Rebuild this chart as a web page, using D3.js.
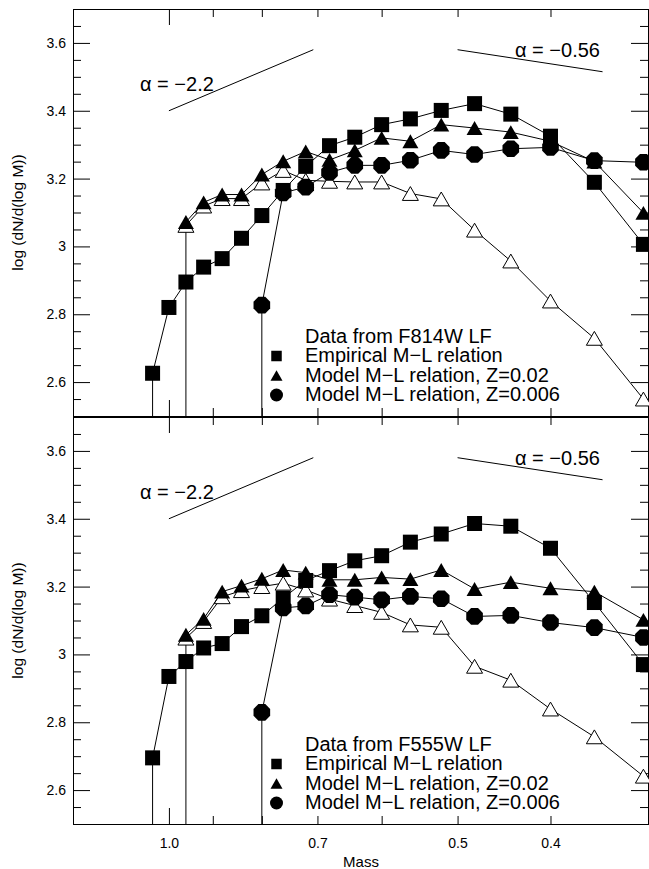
<!DOCTYPE html>
<html><head><meta charset="utf-8">
<script src="https://cdn.jsdelivr.net/npm/d3@7"></script>
<style>html,body{margin:0;padding:0;background:#fff;} svg{display:block;}</style>
</head><body>
<svg id="c" width="649" height="869"></svg>
<script>
// ---------- data ----------
const massSquares   = [1.04,1.00,0.96,0.92,0.88,0.84,0.80,0.76,0.72,0.68,0.64,0.60,0.56,0.52,0.48,0.44,0.40,0.36,0.32];
const massTriangles = [0.96,0.92,0.88,0.84,0.80,0.76,0.72,0.68,0.64,0.60,0.56,0.52,0.48,0.44,0.40,0.36,0.32];
const massCircles   = [0.80,0.76,0.72,0.68,0.64,0.60,0.56,0.52,0.48,0.44,0.40,0.36,0.32];

// Top panel: F814W
const empiricalF814 = [2.626,2.820,2.895,2.939,2.964,3.024,3.091,3.165,3.236,3.297,3.322,3.359,3.376,3.401,3.421,3.390,3.325,3.189,3.006];
const modelZ02F814  = [3.072,3.130,3.153,3.153,3.212,3.251,3.280,3.255,3.283,3.320,3.310,3.359,3.349,3.337,3.310,3.250,3.099];
const openTriF814   = [3.062,3.119,3.141,3.141,3.187,3.224,3.195,3.192,3.190,3.190,3.156,3.140,3.048,2.957,2.839,2.729,2.550];
const modelZ006F814 = [2.827,3.158,3.175,3.218,3.239,3.239,3.254,3.283,3.271,3.288,3.292,3.253,3.248];

// Bottom panel: F555W
const empiricalF555 = [2.695,2.935,2.979,3.019,3.032,3.082,3.114,3.166,3.218,3.247,3.276,3.291,3.331,3.355,3.386,3.378,3.313,3.153,2.970];
const modelZ02F555  = [3.058,3.105,3.185,3.203,3.223,3.249,3.241,3.220,3.220,3.227,3.222,3.249,3.193,3.213,3.195,3.185,3.102];
const openTriF555   = [3.048,3.097,3.170,3.188,3.200,3.210,3.190,3.163,3.144,3.124,3.087,3.080,2.965,2.924,2.839,2.757,2.641];
const modelZ006F555 = [2.829,3.137,3.143,3.176,3.169,3.161,3.171,3.164,3.112,3.115,3.094,3.079,3.050];

const panelTitles = ["Data from F814W LF","Data from F555W LF"];
const legendLabels = ["Empirical M\u2212L relation","Model M\u2212L relation, Z=0.02","Model M\u2212L relation, Z=0.006"];

// slope reference lines: [mass0, value0, mass1, value1]
const alphaLine1 = [1.0, 3.40, 0.707, 3.58];
const alphaLine2 = [0.5, 3.58, 0.353, 3.515];
const alphaLabels = ["\u03b1 = \u22122.2","\u03b1 = \u22120.56"];

const yMajorTicks = [2.6,2.8,3.0,3.2,3.4,3.6];
const yTickLabels = ["2.6","2.8","3","3.2","3.4","3.6"];
const yMinorTicks = [2.55,2.65,2.7,2.75,2.85,2.9,2.95,3.05,3.1,3.15,3.25,3.3,3.35,3.45,3.5,3.55,3.65];
const xMajorTicks = [1.0];
const xMinorTicks = [0.9,0.8,0.7,0.6,0.5,0.4];
const xLabelTicks = [1.0,0.7,0.5,0.4];
const xTickLabels = ["1.0","0.7","0.5","0.4"];
const yDomain = [2.5,3.7];
const xDomain = [1.259,0.3165];

// ---------- drawing ----------
const FONT = "'Liberation Sans', Arial, Helvetica, sans-serif";
const svg = d3.select("#c");
svg.append("rect").attr("width",649).attr("height",869).attr("fill","#fff");

const x = d3.scaleLog().domain(xDomain).range([73,648]);

const panels = [
  {top:9,   bot:416, title:panelTitles[0], sq:empiricalF814, tri:modelZ02F814, open:openTriF814, circ:modelZ006F814},
  {top:417, bot:824, title:panelTitles[1], sq:empiricalF555, tri:modelZ02F555, open:openTriF555, circ:modelZ006F555}
];

function triPath(s){const h=s*Math.sqrt(3)/2;return `M0,${-h/2}L${s/2},${h/2}L${-s/2},${h/2}Z`;}
function octPath(r){const pts=d3.range(8).map(k=>{const a=(22.5+45*k)*Math.PI/180;return [r*Math.cos(a),r*Math.sin(a)];});return "M"+pts.map(p=>p.join(",")).join("L")+"Z";}

function styleAxis(g){
  g.select(".domain").remove();
  g.selectAll("line").attr("stroke","#000").attr("stroke-width",1);
  g.selectAll("text").attr("font-family",FONT).attr("font-size",14).attr("fill","#000");
}

panels.forEach((p,pi)=>{
  const y = d3.scaleLinear().domain(yDomain).range([p.bot,p.top]);
  const g = svg.append("g");

  // axes ticks
  g.append("g").attr("transform",`translate(73,0)`).call(d3.axisLeft(y).tickValues(yMajorTicks).tickSize(-17).tickPadding(7).tickFormat((d,i)=>yTickLabels[i])).call(styleAxis);
  g.append("g").attr("transform",`translate(73,0)`).call(d3.axisLeft(y).tickValues(yMinorTicks).tickSize(-8).tickFormat("")).call(styleAxis);
  g.append("g").attr("transform",`translate(648,0)`).call(d3.axisRight(y).tickValues(yMajorTicks).tickSize(-17).tickFormat("")).call(styleAxis);
  g.append("g").attr("transform",`translate(648,0)`).call(d3.axisRight(y).tickValues(yMinorTicks).tickSize(-8).tickFormat("")).call(styleAxis);
  g.append("g").attr("transform",`translate(0,${p.top})`).call(d3.axisTop(x).tickValues(xMajorTicks).tickSize(-16).tickFormat("")).call(styleAxis);
  g.append("g").attr("transform",`translate(0,${p.top})`).call(d3.axisTop(x).tickValues(xMinorTicks).tickSize(-8).tickFormat("")).call(styleAxis);
  g.append("g").attr("transform",`translate(0,${p.bot})`).call(d3.axisBottom(x).tickValues(xMajorTicks).tickSize(-16).tickFormat("")).call(styleAxis);
  g.append("g").attr("transform",`translate(0,${p.bot})`).call(d3.axisBottom(x).tickValues(xMinorTicks).tickSize(-8).tickFormat("")).call(styleAxis);
  if(pi===1){
    g.append("g").attr("transform",`translate(0,${p.bot})`).call(d3.axisBottom(x).tickValues(xLabelTicks).tickSize(0).tickPadding(14).tickFormat((d,i)=>xTickLabels[i])).call(styleAxis);
  }

  // frame
  g.append("rect").attr("x",73.5).attr("y",p.top+0.5).attr("width",575).attr("height",p.bot-p.top)
    .attr("fill","none").attr("stroke","#000").attr("stroke-width",1);

  // y label
  g.append("text").attr("transform",`translate(22.5,${(p.top+p.bot)/2}) rotate(-90)`)
    .attr("text-anchor","middle").attr("font-family",FONT).attr("font-size",15.5).text("log (dN/d(log M))");

  // slope reference lines
  [alphaLine1,alphaLine2].forEach(a=>{
    g.append("line").attr("x1",x(a[0])).attr("y1",y(a[1])).attr("x2",x(a[2])).attr("y2",y(a[3]))
      .attr("stroke","#000").attr("stroke-width",1);
  });
  g.append("text").attr("x",140).attr("y",p.top+81.5).attr("font-family",FONT).attr("font-size",20).text(alphaLabels[0]);
  g.append("text").attr("x",515).attr("y",p.top+47.5).attr("font-family",FONT).attr("font-size",20).text(alphaLabels[1]);

  const line = d3.line().x(d=>x(d[0])).y(d=>y(d[1]));
  const sq = d3.zip(massSquares,p.sq), tri = d3.zip(massTriangles,p.tri), op = d3.zip(massTriangles,p.open), ci = d3.zip(massCircles,p.circ);

  // drop lines from first point of each series
  [sq[0],tri[0],ci[0]].forEach(d=>{
    g.append("line").attr("x1",x(d[0])).attr("x2",x(d[0])).attr("y1",y(d[1])).attr("y2",p.bot)
      .attr("stroke","#000").attr("stroke-width",1);
  });

  // open triangles
  g.append("path").datum(op).attr("d",line).attr("fill","none").attr("stroke","#000").attr("stroke-width",1);
  g.selectAll(null).data(op).join("path").attr("d",triPath(16))
    .attr("transform",d=>`translate(${x(d[0])},${y(d[1])})`).attr("fill","#fff").attr("stroke","#000").attr("stroke-width",1);
  // squares
  g.append("path").datum(sq).attr("d",line).attr("fill","none").attr("stroke","#000").attr("stroke-width",1);
  g.selectAll(null).data(sq).join("rect").attr("width",15).attr("height",15)
    .attr("x",d=>x(d[0])-7.5).attr("y",d=>y(d[1])-7.5).attr("fill","#000");
  // filled triangles
  g.append("path").datum(tri).attr("d",line).attr("fill","none").attr("stroke","#000").attr("stroke-width",1);
  g.selectAll(null).data(tri).join("path").attr("d",triPath(16))
    .attr("transform",d=>`translate(${x(d[0])},${y(d[1])})`).attr("fill","#000");
  // circles (octagons)
  g.append("path").datum(ci).attr("d",line).attr("fill","none").attr("stroke","#000").attr("stroke-width",1);
  g.selectAll(null).data(ci).join("path").attr("d",octPath(9))
    .attr("transform",d=>`translate(${x(d[0])},${y(d[1])})`).attr("fill","#000");

  // legend
  const base = [333.5,353,372.5,392].map(v=>p.top+v);
  g.append("text").attr("x",305).attr("y",base[0]).attr("font-family",FONT).attr("font-size",20).text(p.title);
  legendLabels.forEach((t,i)=>{
    g.append("text").attr("x",305).attr("y",base[i+1]).attr("font-family",FONT).attr("font-size",20).text(t);
  });
  const mx = 276.5;
  g.append("rect").attr("x",mx-5.25).attr("y",base[1]-6-5.25).attr("width",10.5).attr("height",10.5).attr("fill","#000");
  g.append("path").attr("d",triPath(12)).attr("transform",`translate(${mx},${base[2]-6})`).attr("fill","#000");
  g.append("circle").attr("cx",mx).attr("cy",base[3]-6).attr("r",6.5).attr("fill","#000");
});

// divider emphasis
svg.append("line").attr("x1",73).attr("x2",649).attr("y1",417).attr("y2",417).attr("stroke","#000").attr("stroke-width",2);

// x label
svg.append("text").attr("x",361).attr("y",867).attr("text-anchor","middle").attr("font-family",FONT).attr("font-size",15).text("Mass");
</script>
</body></html>
